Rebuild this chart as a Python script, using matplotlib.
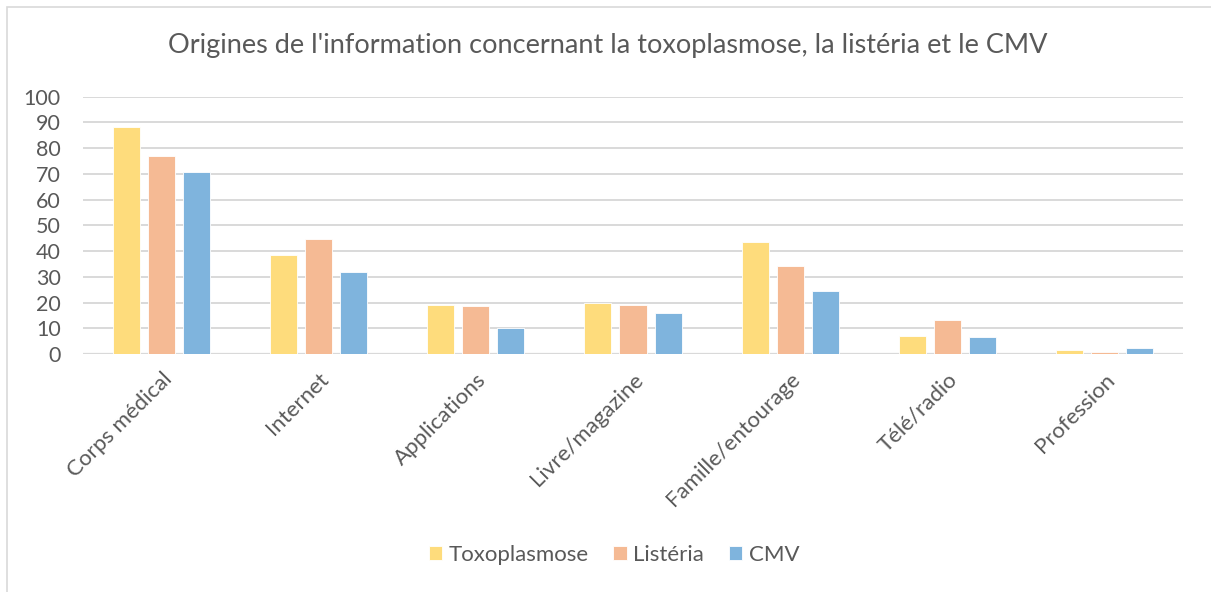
import matplotlib
matplotlib.use('Agg')
import matplotlib.pyplot as plt
import numpy as np
from matplotlib.patches import Rectangle

# data
categories = ['Corps médical', 'Internet', 'Applications', 'Livre/magazine',
              'Famille/entourage', 'Télé/radio', 'Profession']
toxoplasmose = [88.3, 38.5, 19.0, 19.8, 43.4, 6.9, 1.4]
listeria = [77.0, 44.6, 18.7, 19.2, 34.2, 13.2, 0.8]
cmv = [70.6, 31.9, 10.1, 15.8, 24.3, 6.6, 2.3]
series_names = ['Toxoplasmose', 'Listéria', 'CMV']
yticks = list(range(0, 101, 10))

colors = ['#FEDC7C', '#F5BA94', '#7FB4DD']
text_col = '#595959'
grid_col = '#D9D9D9'

plt.rcParams['font.family'] = ['Lato', 'DejaVu Sans']

fig = plt.figure(figsize=(12.11, 5.92), dpi=100)
ax = fig.add_axes([83/1211, 1-354/592, 1100/1211, (354-96.7)/592])

x = np.arange(len(categories))
width = 0.172
step = 0.223
for i, (vals, name) in enumerate(zip([toxoplasmose, listeria, cmv], series_names)):
	ax.bar(x + (i-1)*step, vals, width, color=colors[i], label=name,
		edgecolor='white', linewidth=0.6, zorder=3)

ax.set_xlim(-0.5, len(categories)-0.5)
ax.set_ylim(0, 100)
ax.set_yticks(yticks)
ax.set_yticklabels([str(t) for t in yticks], fontsize=15.5, color=text_col)
ax.yaxis.grid(True, color=grid_col, linewidth=1.4, zorder=0)
ax.set_axisbelow(True)
for s in ['top', 'right', 'left', 'bottom']:
	ax.spines[s].set_visible(False)
ax.axhline(0, color=grid_col, linewidth=1.6, zorder=2)
ax.tick_params(axis='y', length=0, pad=16)
ax.tick_params(axis='x', length=0, pad=11)

ax.set_xticks(x)
ax.set_xticklabels(categories, rotation=45, ha='right', rotation_mode='anchor',
	fontsize=16, color=text_col)

fig.text(0.502, 1-45/592, "Origines de l'information concernant la toxoplasmose, la listéria et le CMV",
	ha='center', va='center', fontsize=19.5, color=text_col)

leg = fig.legend(loc='center', bbox_to_anchor=(614/1211, 1-555/592), ncol=3,
	frameon=False, fontsize=16, handlelength=0.6, handleheight=0.6,
	handletextpad=0.3, columnspacing=1.1)
for t in leg.get_texts():
	t.set_color(text_col)

# light frame around the chart area
fig.patches.append(Rectangle((7/1211, -0.05), 1.1, 1-7/592+0.05, transform=fig.transFigure,
	fill=False, edgecolor='#D9D9D9', linewidth=1.2))

plt.savefig('out.png', dpi=100)
